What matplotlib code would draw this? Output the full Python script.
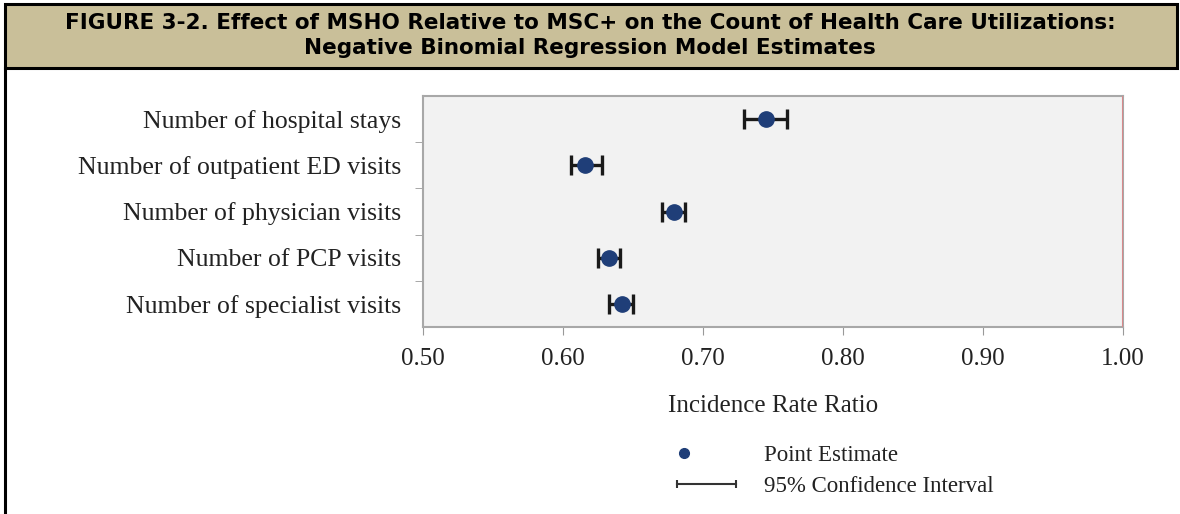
import matplotlib.pyplot as plt
from matplotlib.patches import Rectangle
from matplotlib.lines import Line2D
from matplotlib.legend_handler import HandlerLine2D
import numpy as np

categories = ['Number of hospital stays', 'Number of outpatient ED visits',
              'Number of physician visits', 'Number of PCP visits',
              'Number of specialist visits']
estimate = [0.745, 0.616, 0.679, 0.633, 0.642]
ci_low = [0.729, 0.606, 0.671, 0.625, 0.633]
ci_high = [0.760, 0.628, 0.687, 0.641, 0.650]
xticks = [0.50, 0.60, 0.70, 0.80, 0.90, 1.00]

serif = 'Liberation Serif'
dot_color = '#1F3E78'


class LeftDot(HandlerLine2D):
    # legend dot sits near the left end of the handle, not in its middle
    def get_xdata(self, legend, xdescent, ydescent, width, height, fontsize):
        x0 = -xdescent + 0.3 * fontsize
        return [x0 - 1, x0 + 1], [x0]


fig = plt.figure(figsize=(11.8, 5.14), dpi=100)

# title band and outer frame
W, H = 1180, 514
fig.patches.append(Rectangle((5 / W, 1 - 68 / H), 1172 / W, 64 / H, transform=fig.transFigure,
                             facecolor='#C9BF99', edgecolor='black', linewidth=2.2, zorder=0))
fig.lines.append(Line2D([5 / W, 5 / W], [0, 1 - 68 / H], transform=fig.transFigure,
                        color='black', linewidth=2.2))
fig.text(0.5, 1 - 23 / H, 'FIGURE 3-2. Effect of MSHO Relative to MSC+ on the Count of Health Care Utilizations:',
         ha='center', va='center', fontsize=15.5, fontweight='bold', family='DejaVu Sans')
fig.text(0.5, 1 - 48 / H, 'Negative Binomial Regression Model Estimates',
         ha='center', va='center', fontsize=15.5, fontweight='bold', family='DejaVu Sans')

ax = fig.add_axes([423 / W, 1 - 327 / H, 700 / W, 231 / H])
ax.set_facecolor('#F2F2F2')

y = np.arange(len(categories))
est = np.array(estimate)
err = [est - np.array(ci_low), np.array(ci_high) - est]
ax.errorbar(estimate, y, xerr=err, fmt='none', ecolor='#1a1a1a', elinewidth=2.4,
            capsize=7, capthick=2.4, zorder=3)
ax.plot(estimate, y, 'o', color=dot_color, markersize=11, zorder=4)
ax.axvline(1.0, color='#E87F84', linewidth=1.8, zorder=5)

ax.set_xlim(0.5, 1.0)
ax.set_ylim(len(categories) - 0.5, -0.5)
ax.set_xticks(xticks)
ax.set_xticklabels([f'{v:.2f}' for v in xticks], family=serif, fontsize=18, color='#222222')
ax.set_yticks(y)
ax.set_yticklabels(categories, family=serif, fontsize=18.5, color='#222222')
ax.set_yticks(y[:-1] + 0.5, minor=True)
ax.tick_params(axis='y', which='major', length=0, pad=16)
ax.tick_params(axis='y', which='minor', length=6, color='#999999')
ax.tick_params(axis='x', length=6, color='#999999', pad=9)
for s in ax.spines.values():
    s.set_color('#A8A8A8')
    s.set_linewidth(1.5)
ax.set_xlabel('Incidence Rate Ratio', family=serif, fontsize=18, color='#222222', labelpad=18)

# legend below the plot
h_point = Line2D([], [], marker='o', linestyle='none', color=dot_color, markersize=7)
h_ci = Line2D([], [], color='#333333', linewidth=1.5, marker='|', markersize=6, markeredgewidth=1.5)
leg = fig.legend([h_point, h_ci], ['Point Estimate', '95% Confidence Interval'],
                 handler_map={h_point: LeftDot(),
                              h_ci: HandlerLine2D(numpoints=2, marker_pad=0)},
                 loc='center left', bbox_to_anchor=(656 / W, 1 - 471 / H), frameon=False,
                 prop={'family': serif, 'size': 16.5}, handlelength=2.6, handletextpad=1.2,
                 labelspacing=0.45)
for t in leg.get_texts():
    t.set_color('#222222')

fig.savefig('out.png', dpi=100)
